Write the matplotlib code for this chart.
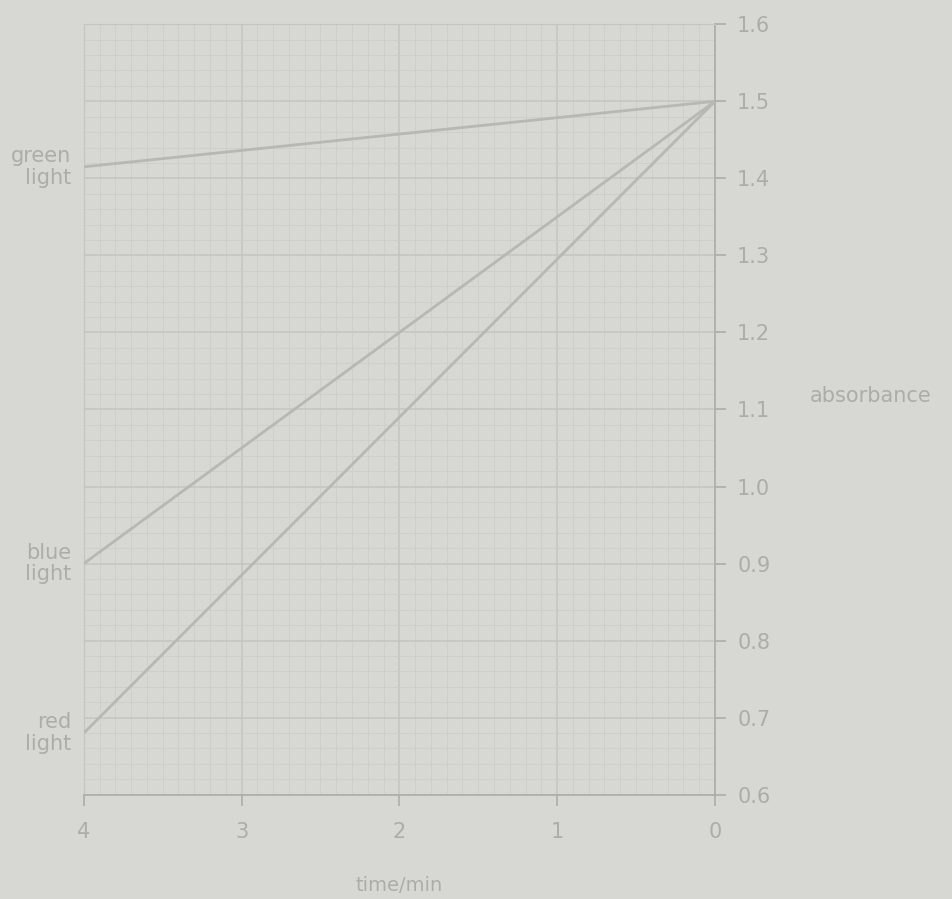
import numpy as np
import matplotlib
matplotlib.use('Agg')
import matplotlib.pyplot as plt
from matplotlib.ticker import MultipleLocator

# --- Data ---
time_min = [0, 4]
green_abs = [1.50, 1.415]
blue_abs = [1.50, 0.90]
red_abs = [1.50, 0.68]

x_ticks = [0, 1, 2, 3, 4]
y_ticks = [0.6, 0.7, 0.8, 0.9, 1.0, 1.1, 1.2, 1.3, 1.4, 1.5, 1.6]
series = [("green\nlight", green_abs), ("blue\nlight", blue_abs), ("red\nlight", red_abs)]

# --- Style ---
BG = "#d7d7d3"
GRID_MINOR = "#cdcdc9"
GRID_MAJOR = "#c4c4c0"
INK = "#acaca8"
LINE = "#b8b8b3"

fig = plt.figure(figsize=(9.52, 8.99), dpi=100, facecolor=BG)
ax = fig.add_axes([0.088, 0.116, 0.663, 0.857])
ax.set_facecolor(BG)

for label, vals in series:
    ax.plot(time_min, vals, color=LINE, lw=2.0, solid_capstyle='round', zorder=3)

ax.set_xlim(4, 0)   # reversed: 0 on the right
ax.set_ylim(0.6, 1.6)
ax.xaxis.set_major_locator(MultipleLocator(1))
ax.xaxis.set_minor_locator(MultipleLocator(0.1))
ax.grid(which='minor', color=GRID_MINOR, lw=0.6)
ax.grid(which='major', color=GRID_MAJOR, lw=1.1)
ax.set_axisbelow(True)

ax.set_xticks(x_ticks)
ax.set_xticklabels([str(t) for t in x_ticks])
ax.yaxis.tick_right()
ax.set_yticks(y_ticks)
ax.set_yticks(np.arange(0.6, 1.61, 0.02), minor=True)
ax.set_yticklabels([f"{v:.1f}" for v in y_ticks])
ax.tick_params(which='major', colors=INK, labelcolor=INK, labelsize=15,
               length=8, width=1.2, direction='out', pad=8)
ax.tick_params(axis='x', which='major', pad=12)
ax.tick_params(which='minor', length=0)
for side in ['left', 'top']:
    ax.spines[side].set_color(GRID_MAJOR)
for side in ['right', 'bottom']:
    ax.spines[side].set_color(INK)
    ax.spines[side].set_linewidth(1.2)

ax.set_xlabel("time/min", color=INK, fontsize=14, labelpad=24)
fig.text(0.915, 0.56, "absorbance", color=INK, fontsize=15, ha='center', va='center')

for label, vals in series:
    ax.text(-0.02, vals[-1], label, transform=ax.get_yaxis_transform(),
            color=INK, fontsize=15, ha='right', va='center', linespacing=1.1)

fig.savefig("out.png", dpi=100, facecolor=BG)
